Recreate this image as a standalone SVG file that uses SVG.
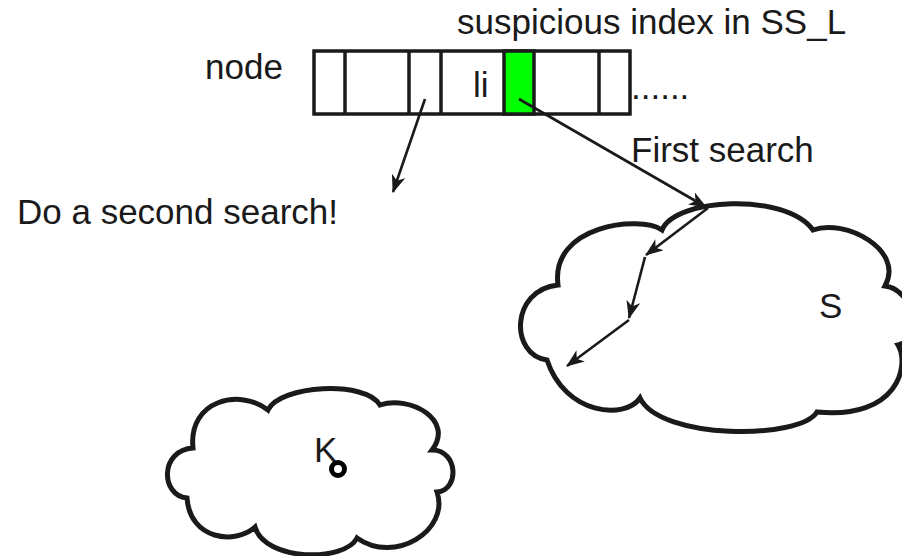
<svg xmlns="http://www.w3.org/2000/svg" width="902" height="556" viewBox="0 0 902 556">
  <defs>
    <style>
      .lbl { font-family: "Liberation Sans", Arial, sans-serif; font-size: 35px; fill: #1a1a1a; }
      .cell { fill: #ffffff; stroke: #1a1a1a; stroke-width: 3.5; }
      .hit { fill: #00ff00; stroke: #1a1a1a; stroke-width: 3.5; }
      .cloud { fill: #ffffff; stroke: #1a1a1a; stroke-width: 5; stroke-linejoin: miter; }
      .edge { fill: none; stroke: #1a1a1a; stroke-width: 2.6; }
    </style>
    <marker id="arrow" viewBox="0 0 18 14" refX="17" refY="7" markerWidth="18" markerHeight="14" markerUnits="userSpaceOnUse" orient="auto">
      <path d="M0,0 L18,7 L0,14 L5,7 Z" fill="#1a1a1a"/>
    </marker>
  </defs>

  <rect width="902" height="556" fill="#ffffff"/>

  <!-- cloud S -->
  <g id="cloud-s">
    <path class="cloud" d="M662,230 C675,198 785,192 813,230 C845,218 905,250 885,286 C915,290 922,340 898,345 C910,365 898,420 817,412 C800,440 660,440 640,398 C625,420 565,415 547,360 C510,355 510,290 558,285 C550,225 640,215 662,230 Z"/>
    <text class="lbl" x="819" y="318">S</text>
  </g>

  <!-- cloud K -->
  <g id="cloud-k">
    <path class="cloud" d="M268,410 C280,385 365,380 380,405 C410,395 455,420 432,450 C458,450 460,490 437,492 C450,530 395,565 357,538 C345,562 265,562 255,527 C235,545 190,540 187,498 C160,495 160,450 193,448 C188,400 240,388 268,410 Z"/>
    <text class="lbl" x="314" y="462">K</text>
    <circle cx="338" cy="469" r="6.5" fill="#ffffff" stroke="#000000" stroke-width="5"/>
  </g>

  <!-- index array of the node -->
  <g id="node-array">
    <rect class="cell" x="314" y="51" width="316" height="63"/>
    <rect class="hit" x="504" y="51" width="30" height="63"/>
    <line class="cell" x1="345" y1="51" x2="345" y2="114"/>
    <line class="cell" x1="409" y1="51" x2="409" y2="114"/>
    <line class="cell" x1="441" y1="51" x2="441" y2="114"/>
    <line class="cell" x1="599" y1="51" x2="599" y2="114"/>
    <text class="lbl" x="473" y="97">li</text>
    <text class="lbl" x="631" y="99">......</text>
  </g>

  <!-- free labels -->
  <g id="labels">
    <text class="lbl" x="205" y="79">node</text>
    <text class="lbl" x="457" y="34">suspicious index in SS_L</text>
    <text class="lbl" x="17" y="224">Do a second search!</text>
    <text class="lbl" x="631" y="162">First search</text>
  </g>

  <!-- connectors -->
  <g id="connectors">
    <line class="edge" x1="425" y1="99" x2="393" y2="192" marker-end="url(#arrow)"/>
    <line class="edge" x1="519" y1="99" x2="706" y2="207" marker-end="url(#arrow)"/>
    <line class="edge" x1="708" y1="208" x2="646" y2="255" marker-end="url(#arrow)"/>
    <line class="edge" x1="645" y1="257" x2="629" y2="318" marker-end="url(#arrow)"/>
    <line class="edge" x1="629" y1="320" x2="567" y2="366" marker-end="url(#arrow)"/>
  </g>
</svg>
